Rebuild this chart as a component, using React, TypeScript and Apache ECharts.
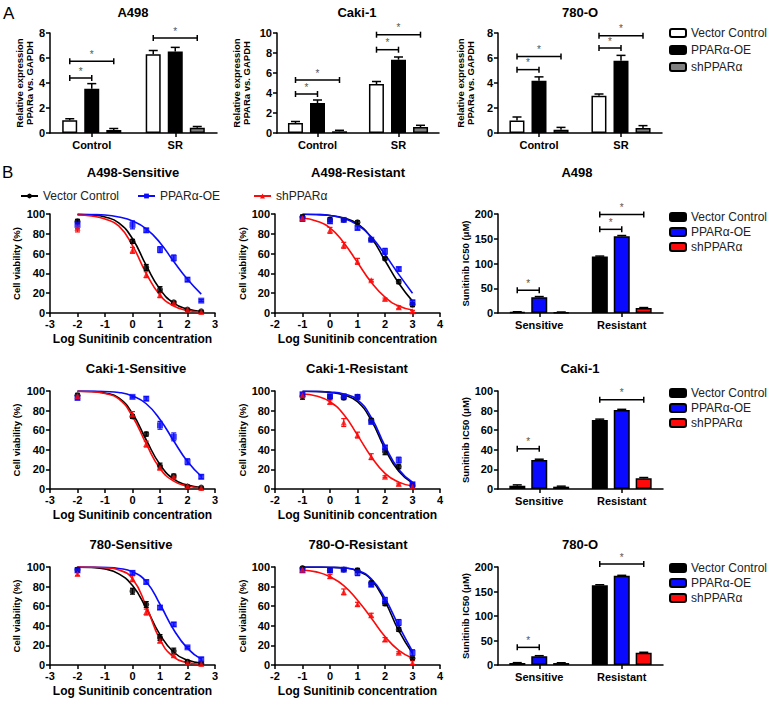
import React, { useEffect, useRef } from 'react';
import * as echarts from 'echarts';

const FONT = '"Liberation Sans", Arial, Helvetica, sans-serif';
const BLACK = '#000000';
const BLUE = '#0a0aff';
const RED = '#ff0a0a';
const GRAY = '#808080';
const WHITE = '#ffffff';
const STAR = '#555555';

// ---------------- Panel A: relative PPARα expression ----------------
const exprCategories = ['Control', 'SR'];
const a498ExprVC = [1.02, 6.3];
const a498ExprOE = [3.55, 6.52];
const a498ExprSh = [0.24, 0.42];
const a498ExprErrVC = [0.12, 0.3];
const a498ExprErrOE = [0.4, 0.33];
const a498ExprErrSh = [0.12, 0.1];
const a498ExprSig = [[0, 0, 1, 4.4], [0, 0, 2, 5.75], [1, 0, 2, 7.6]];

const cakiExprVC = [1.0, 4.9];
const cakiExprOE = [3.0, 7.33];
const cakiExprSh = [0.17, 0.6];
const cakiExprErrVC = [0.15, 0.25];
const cakiExprErrOE = [0.3, 0.27];
const cakiExprErrSh = [0.1, 0.17];
const cakiExprSig = [[0, 0, 1, 3.9], [0, 0, 2, 5.3], [1, 0, 1, 8.33], [1, 0, 2, 9.83]];

const o780ExprVC = [1.01, 2.99];
const o780ExprOE = [4.19, 5.79];
const o780ExprSh = [0.27, 0.4];
const o780ExprErrVC = [0.27, 0.13];
const o780ExprErrOE = [0.3, 0.42];
const o780ExprErrSh = [0.18, 0.19];
const o780ExprSig = [[0, 0, 1, 5.07], [0, 0, 2, 6.13], [1, 0, 1, 6.8], [1, 0, 2, 7.79]];

// ---------------- Panel B: IC50 bars ----------------
const ic50Categories = ['Sensitive', 'Resistant'];
const a498IcVC = [2, 114];
const a498IcOE = [32, 155];
const a498IcSh = [1.5, 10];
const a498IcErrVC = [0.5, 1];
const a498IcErrOE = [1.2, 1.5];
const a498IcErrSh = [0.5, 1];
const a498IcSig = [[0, 0, 1, 46], [1, 0, 1, 169], [1, 0, 2, 199]];

const cakiIcVC = [3.4, 70.5];
const cakiIcOE = [29.6, 80.5];
const cakiIcSh = [2.4, 10.9];
const cakiIcErrVC = [0.8, 0.8];
const cakiIcErrOE = [0.8, 0.8];
const cakiIcErrSh = [0.5, 0.8];
const cakiIcSig = [[0, 0, 1, 41], [1, 0, 2, 91]];

const o780IcVC = [4, 163];
const o780IcOE = [18, 182];
const o780IcSh = [4, 25];
const o780IcErrVC = [0.8, 0.8];
const o780IcErrOE = [1, 1];
const o780IcErrSh = [0.6, 1];
const o780IcSig = [[0, 0, 1, 36], [1, 0, 2, 206]];

// ---------------- Panel B: dose-response ----------------
const sensDoses = [-2, 0, 0.5, 1, 1.5, 2, 2.5];
const resDoses = [-1, 0, 0.5, 1, 1.5, 2, 2.5, 3];
const sensCurveX = [-2, -1.5, -1, -0.5, 0, 0.5, 1, 1.5, 2, 2.5];
const resCurveX = [-1, -0.5, 0, 0.5, 1, 1.5, 2, 2.5, 3];
const sensTicks = [-3, 3, 1];
const resTicks = [-2, 4, 1];

// A498 sensitive
const a498SensVC = [92.6, 72.4, 46, 23.6, 10.8, 3.4, 1.7];
const a498SensOE = [89, 89, 83.5, 64, 55.6, 33.7, 12.5];
const a498SensSh = [85.9, 63.3, 38.7, 18.5, 10, 3.4, 1];
const a498SensErrVC = [2, 2, 3, 3, 1, 1, 0.5];
const a498SensErrOE = [4, 4, 2, 3, 3, 2, 1];
const a498SensErrSh = [4, 3, 3, 3, 1, 1, 0.5];
const a498SensCurveVC = [99.5, 99, 97, 91, 75, 48, 24, 10, 4, 1.5];
const a498SensCurveOE = [100, 99.5, 99, 97, 93, 85, 71, 52, 34, 19];
const a498SensCurveSh = [99, 98, 95, 88, 68, 40, 18, 7, 2.5, 1];

// A498 resistant
const a498ResVC = [97, 94.3, 94, 91.6, 74, 55, 31.6, 8.4];
const a498ResOE = [95, 92.6, 94, 85.9, 74, 62.3, 44.4, 10.8];
const a498ResSh = [96, 83.5, 68.4, 52.2, 33, 14.1, 5.7, 1.7];
const a498ResErrVC = [2, 2, 1, 1.5, 1, 1.5, 2, 2];
const a498ResErrOE = [2, 2, 1, 2, 1, 3, 2, 2];
const a498ResErrSh = [2, 3, 3, 3, 1, 1, 1.5, 1];
const a498ResCurveVC = [99.8, 99.5, 98.5, 96, 90, 76, 53, 30, 12];
const a498ResCurveOE = [99.8, 99.5, 98.5, 95.5, 89, 77, 59, 39, 20];
const a498ResCurveSh = [96, 93, 86, 71, 51, 31, 16, 7, 3];

// Caki-1 sensitive
const cakiSensVC = [95.6, 74, 56, 23.4, 13.2, 2.4, 1.4];
const cakiSensOE = [93, 94, 92.2, 65, 53.2, 27.8, 12.5];
const cakiSensSh = [95, 76, 45.8, 21.7, 12.5, 3, 1];
const cakiSensErrVC = [2, 2, 2, 3, 2, 1, 0.5];
const cakiSensErrOE = [2, 1, 2, 4, 4, 3, 2];
const cakiSensErrSh = [2, 3, 3, 2, 1, 1, 0.5];
const cakiSensCurveVC = [99.8, 99.5, 98, 93, 77, 50, 25, 10, 4, 1.5];
const cakiSensCurveOE = [100, 100, 99.5, 98.5, 95, 87, 71, 49, 28, 13];
const cakiSensCurveSh = [99.8, 99.3, 97.5, 92, 74, 46, 21, 8, 3, 1];

// Caki-1 resistant
const cakiResVC = [94.6, 94, 93.2, 94, 70, 38, 22.7, 3.4];
const cakiResOE = [96.6, 94.6, 94.6, 94, 68.5, 42.4, 29.5, 4.7];
const cakiResSh = [95.6, 88.8, 67.8, 55, 33, 12.5, 5, 2.4];
const cakiResErrVC = [3, 2, 2, 2, 2, 3, 2, 2];
const cakiResErrOE = [2, 2, 2, 2, 2, 2, 3, 2];
const cakiResErrSh = [2, 2, 4, 3, 3, 1, 1, 1];
const cakiResCurveVC = [99.8, 99.5, 98.5, 96, 89, 70, 41, 18, 6];
const cakiResCurveOE = [99.8, 99.6, 99, 97, 91, 73, 44, 20, 7];
const cakiResCurveSh = [97, 95, 89, 76, 55, 33, 16, 7, 3];

// 780 sensitive
const o780SensVC = [97.3, 75.3, 61.7, 28, 14.2, 3.4, 1.7];
const o780SensOE = [96.6, 94, 84.7, 58.6, 41.4, 18, 5.8];
const o780SensSh = [93, 88, 54, 24.7, 10, 2.4, 1];
const o780SensErrVC = [2, 3, 3, 3, 3, 1, 1];
const o780SensErrOE = [2, 2, 2, 2, 2, 1, 2];
const o780SensErrSh = [2, 3, 3, 2, 2, 1, 1];
const o780SensCurveVC = [99.8, 99.5, 98, 93, 81, 58, 31, 13, 5, 2];
const o780SensCurveOE = [100, 100, 99.6, 98.5, 95, 85, 62, 36, 17, 6];
const o780SensCurveSh = [100, 99.8, 99.2, 97, 88, 60, 26, 8, 2.5, 0.8];

// 780-O resistant
const o780ResVC = [99, 96.6, 97.3, 96.6, 83.7, 62.7, 36.3, 6.8];
const o780ResOE = [96.6, 96.6, 97.3, 94.2, 82, 66, 43.4, 12.5];
const o780ResSh = [97.3, 90.5, 74.6, 62, 50.8, 26, 12.5, 2.4];
const o780ResErrVC = [1, 2, 1, 2, 2, 2, 2, 1];
const o780ResErrOE = [2, 2, 1, 3, 2, 3, 3, 3];
const o780ResErrSh = [1, 2, 3, 2, 2, 2, 1, 2];
const o780ResCurveVC = [100, 99.9, 99.7, 99, 96, 87, 65, 35, 12];
const o780ResCurveOE = [100, 99.9, 99.7, 99, 96.5, 88, 68, 40, 14];
const o780ResCurveSh = [97, 95, 90, 81, 66, 48, 29, 15, 7];

const groupNames = ['Vector Control', 'PPARα-OE', 'shPPARα'];
const BAR_SPACING = 22;

const axisLineStyle = { color: BLACK, width: 1.5 };
const labelStyle = { color: BLACK, fontFamily: FONT, fontWeight: 'bold' as const, fontSize: 11 };

function catAxis(gi: number, data: string[]) {
  return {
    type: 'category', gridIndex: gi, data,
    axisLine: { show: true, onZero: false, lineStyle: axisLineStyle },
    axisTick: { show: true, alignWithLabel: true, length: 4, lineStyle: axisLineStyle },
    axisLabel: { ...labelStyle, margin: 6 },
    splitLine: { show: false },
  };
}

function valAxis(gi: number, min: number, max: number, interval: number, name = '', nameGap = 20, nameStyle: any = {}) {
  return {
    type: 'value', gridIndex: gi, min, max, interval,
    name, nameLocation: 'middle', nameGap,
    nameTextStyle: { color: BLACK, fontFamily: FONT, fontWeight: 'bold', ...nameStyle },
    axisLine: { show: true, onZero: false, lineStyle: axisLineStyle },
    axisTick: { show: true, length: 4, lineStyle: axisLineStyle },
    axisLabel: { ...labelStyle, margin: 5 },
    splitLine: { show: false },
  };
}

function yValAxis(gi: number, min: number, max: number, interval: number, name: string, nameGap: number, nameStyle: any) {
  return { ...valAxis(gi, min, max, interval, name, nameGap, nameStyle), nameRotate: 90 };
}

function barErrSeries(gi: number, values: number[], errs: number[], k: number) {
  return {
    type: 'custom', xAxisIndex: gi, yAxisIndex: gi, silent: true, z: 3,
    itemStyle: { color: BLACK },
    data: values.map((v, i) => [i, v, errs[i]]),
    renderItem: (_p: any, api: any) => {
      const p0 = api.coord([api.value(0), api.value(1)]);
      const p1 = api.coord([api.value(0), api.value(1) + api.value(2)]);
      const x = p0[0] + (k - 1) * BAR_SPACING;
      return {
        type: 'group', children: [
          { type: 'line', shape: { x1: x, y1: p0[1], x2: x, y2: p1[1] }, style: { stroke: BLACK, lineWidth: 1.5 } },
          { type: 'line', shape: { x1: x - 4.5, y1: p1[1], x2: x + 4.5, y2: p1[1] }, style: { stroke: BLACK, lineWidth: 1.5 } },
        ],
      };
    },
  };
}

function sigSeries(gi: number, sig: number[][]) {
  return {
    type: 'custom', xAxisIndex: gi, yAxisIndex: gi, silent: true, z: 5, clip: false,
    itemStyle: { color: STAR },
    data: sig,
    renderItem: (_p: any, api: any) => {
      const p = api.coord([api.value(0), api.value(3)]);
      const x1 = p[0] + (api.value(1) - 1) * BAR_SPACING;
      const x2 = p[0] + (api.value(2) - 1) * BAR_SPACING;
      const y = p[1];
      const st = { stroke: BLACK, lineWidth: 1.5 };
      return {
        type: 'group', children: [
          { type: 'line', shape: { x1, y1: y, x2, y2: y }, style: st },
          { type: 'line', shape: { x1, y1: y - 3, x2: x1, y2: y + 3 }, style: st },
          { type: 'line', shape: { x1: x2, y1: y - 3, x2, y2: y + 3 }, style: st },
          { type: 'text', x: (x1 + x2) / 2, y: y - 2, style: { text: '*', align: 'center', verticalAlign: 'bottom', textAlign: 'center', textVerticalAlign: 'bottom', fontSize: 10, fontFamily: FONT, fill: STAR } },
        ],
      };
    },
  };
}

function pointErrSeries(gi: number, xs: number[], ys: number[], errs: number[], color: string) {
  return {
    type: 'custom', xAxisIndex: gi, yAxisIndex: gi, silent: true, z: 3,
    itemStyle: { color },
    data: xs.map((x, i) => [x, ys[i], errs[i]]),
    renderItem: (_p: any, api: any) => {
      const lo = api.coord([api.value(0), api.value(1) - api.value(2)]);
      const hi = api.coord([api.value(0), api.value(1) + api.value(2)]);
      const x = lo[0];
      const st = { stroke: color, lineWidth: 1.2 };
      return {
        type: 'group', children: [
          { type: 'line', shape: { x1: x, y1: lo[1], x2: x, y2: hi[1] }, style: st },
          { type: 'line', shape: { x1: x - 2.5, y1: lo[1], x2: x + 2.5, y2: lo[1] }, style: st },
          { type: 'line', shape: { x1: x - 2.5, y1: hi[1], x2: x + 2.5, y2: hi[1] }, style: st },
        ],
      };
    },
  };
}

const groupColors = [BLACK, BLUE, RED];
const groupSymbols = ['circle', 'rect', 'triangle'];

function doseSeries(gi: number, doses: number[], curveX: number[], pts: number[][], errs: number[][], curves: number[][]) {
  const out: any[] = [];
  curves.forEach((c, k) => {
    out.push({
      type: 'line', xAxisIndex: gi, yAxisIndex: gi, silent: true, z: 2,
      data: curveX.map((x, i) => [x, c[i]]), smooth: 0.5,
      symbol: 'none', lineStyle: { color: groupColors[k], width: 1.6 },
    });
  });
  pts.forEach((p, k) => {
    out.push(pointErrSeries(gi, doses, p, errs[k], groupColors[k]));
    out.push({
      type: 'scatter', xAxisIndex: gi, yAxisIndex: gi, silent: true, z: 4,
      data: doses.map((x, i) => [x, p[i]]), symbol: groupSymbols[k], symbolSize: 6,
      itemStyle: { color: groupColors[k] },
    });
  });
  return out;
}

function barSeries(gi: number, suffix: string, colors: string[], values: number[][], errs: number[][], barWidth: number, barGap: string) {
  const out: any[] = [];
  values.forEach((vals, k) => {
    out.push({
      type: 'bar', name: groupNames[k] + suffix, xAxisIndex: gi, yAxisIndex: gi, silent: true,
      data: vals, barWidth, barGap,
      itemStyle: { color: colors[k], borderColor: BLACK, borderWidth: 1.5 },
    });
  });
  errs.forEach((e, k) => out.push(barErrSeries(gi, values[k], e, k)));
  return out;
}

function buildOption() {
  const grids = [
    { left: 50, top: 33, width: 167, height: 100 },
    { left: 277, top: 33, width: 162, height: 100 },
    { left: 498, top: 33, width: 164, height: 100 },
    { left: 50, top: 214, width: 165, height: 99 },
    { left: 275, top: 214, width: 165, height: 99 },
    { left: 498, top: 214, width: 165, height: 99 },
    { left: 50, top: 391, width: 165, height: 98 },
    { left: 275, top: 391, width: 165, height: 98 },
    { left: 498, top: 391, width: 165, height: 98 },
    { left: 50, top: 567, width: 165, height: 98 },
    { left: 275, top: 567, width: 165, height: 98 },
    { left: 498, top: 567, width: 165, height: 98 },
  ];

  const exprName = 'Relative expression\nPPARa vs. GAPDH';
  const exprStyle = { fontSize: 9.5, lineHeight: 10.5 };
  const cvName = 'Cell viability (%)';
  const cvStyle = { fontSize: 9.5 };
  const icName = 'Sunitinib IC50 (μM)';
  const xName = 'Log Sunitinib concentration';
  const xNameStyle = { fontSize: 12 };

  const xAxes: any[] = [
    catAxis(0, exprCategories), catAxis(1, exprCategories), catAxis(2, exprCategories),
  ];
  const yAxes: any[] = [
    yValAxis(0, 0, 8, 2, exprName, 14, exprStyle),
    yValAxis(1, 0, 10, 2, exprName, 25, exprStyle),
    yValAxis(2, 0, 8, 2, exprName, 22, exprStyle),
  ];
  const icMax = [200, 100, 200];
  const icInt = [50, 20, 50];
  for (let r = 0; r < 3; r++) {
    const g = 3 + r * 3;
    xAxes.push(valAxis(g, sensTicks[0], sensTicks[1], sensTicks[2], xName, 20, xNameStyle));
    xAxes.push(valAxis(g + 1, resTicks[0], resTicks[1], resTicks[2], xName, 20, xNameStyle));
    xAxes.push(catAxis(g + 2, ic50Categories));
    yAxes.push(yValAxis(g, 0, 100, 20, cvName, 29, cvStyle));
    yAxes.push(yValAxis(g + 1, 0, 100, 20, cvName, 27, cvStyle));
    yAxes.push(yValAxis(g + 2, 0, icMax[r], icInt[r], icName, 28, cvStyle));
  }

  const exprColors = [WHITE, BLACK, GRAY];
  const icColors = [BLACK, BLUE, RED];
  const series: any[] = [
    ...barSeries(0, '|A', exprColors, [a498ExprVC, a498ExprOE, a498ExprSh], [a498ExprErrVC, a498ExprErrOE, a498ExprErrSh], 15, '47%'),
    sigSeries(0, a498ExprSig),
    ...barSeries(1, '|A', exprColors, [cakiExprVC, cakiExprOE, cakiExprSh], [cakiExprErrVC, cakiExprErrOE, cakiExprErrSh], 15, '47%'),
    sigSeries(1, cakiExprSig),
    ...barSeries(2, '|A', exprColors, [o780ExprVC, o780ExprOE, o780ExprSh], [o780ExprErrVC, o780ExprErrOE, o780ExprErrSh], 15, '47%'),
    sigSeries(2, o780ExprSig),

    ...doseSeries(3, sensDoses, sensCurveX, [a498SensVC, a498SensOE, a498SensSh], [a498SensErrVC, a498SensErrOE, a498SensErrSh], [a498SensCurveVC, a498SensCurveOE, a498SensCurveSh]),
    ...doseSeries(4, resDoses, resCurveX, [a498ResVC, a498ResOE, a498ResSh], [a498ResErrVC, a498ResErrOE, a498ResErrSh], [a498ResCurveVC, a498ResCurveOE, a498ResCurveSh]),
    ...barSeries(5, '|B', icColors, [a498IcVC, a498IcOE, a498IcSh], [a498IcErrVC, a498IcErrOE, a498IcErrSh], 16, '37%'),
    sigSeries(5, a498IcSig),

    ...doseSeries(6, sensDoses, sensCurveX, [cakiSensVC, cakiSensOE, cakiSensSh], [cakiSensErrVC, cakiSensErrOE, cakiSensErrSh], [cakiSensCurveVC, cakiSensCurveOE, cakiSensCurveSh]),
    ...doseSeries(7, resDoses, resCurveX, [cakiResVC, cakiResOE, cakiResSh], [cakiResErrVC, cakiResErrOE, cakiResErrSh], [cakiResCurveVC, cakiResCurveOE, cakiResCurveSh]),
    ...barSeries(8, '|B', icColors, [cakiIcVC, cakiIcOE, cakiIcSh], [cakiIcErrVC, cakiIcErrOE, cakiIcErrSh], 16, '37%'),
    sigSeries(8, cakiIcSig),

    ...doseSeries(9, sensDoses, sensCurveX, [o780SensVC, o780SensOE, o780SensSh], [o780SensErrVC, o780SensErrOE, o780SensErrSh], [o780SensCurveVC, o780SensCurveOE, o780SensCurveSh]),
    ...doseSeries(10, resDoses, resCurveX, [o780ResVC, o780ResOE, o780ResSh], [o780ResErrVC, o780ResErrOE, o780ResErrSh], [o780ResCurveVC, o780ResCurveOE, o780ResCurveSh]),
    ...barSeries(11, '|B', icColors, [o780IcVC, o780IcOE, o780IcSh], [o780IcErrVC, o780IcErrOE, o780IcErrSh], 16, '37%'),
    sigSeries(11, o780IcSig),
  ];

  // legend-only line series for the dose-response key
  groupNames.forEach((n, k) => {
    series.push({
      type: 'line', name: n + '|L', xAxisIndex: 3, yAxisIndex: 3, data: [],
      symbol: groupSymbols[k], symbolSize: 6,
      itemStyle: { color: groupColors[k] }, lineStyle: { color: groupColors[k], width: 1.6 },
    });
  });

  const fmt = (name: string) => name.split('|')[0];
  const legText = { fontFamily: FONT, fontSize: 12, color: '#222' };
  const boxLegend = (top: number, suffix: string, gap: number) => ({
    left: 669, top, orient: 'vertical', padding: 0, itemWidth: 16, itemHeight: 8, itemGap: gap,
    selectedMode: false, formatter: fmt, textStyle: legText,
    data: groupNames.map((n) => n + suffix),
  });
  const lineLegend = (left: number, k: number) => ({
    left, top: 190, padding: 0, itemWidth: 17, itemHeight: 6, selectedMode: false,
    formatter: fmt, textStyle: legText, data: [groupNames[k] + '|L'],
  });

  const tStyle = { fontFamily: FONT, fontWeight: 'bold' as const, fontSize: 13, color: BLACK };
  const t = (text: string, left: number, top: number) => ({ text, left, top, textAlign: 'center', padding: 0, textStyle: tStyle });

  return {
    animation: false,
    backgroundColor: '#ffffff',
    textStyle: { fontFamily: FONT },
    grid: grids,
    xAxis: xAxes,
    yAxis: yAxes,
    series,
    legend: [
      boxLegend(27, '|A', 5),
      lineLegend(20, 0), lineLegend(137, 1), lineLegend(253, 2),
      boxLegend(211, '|B', 3),
      boxLegend(387, '|B', 3),
      boxLegend(562, '|B', 3),
    ],
    title: [
      { text: 'A', left: 3, top: 5, padding: 0, textStyle: { fontFamily: FONT, fontWeight: 'normal', fontSize: 17, color: BLACK } },
      { text: 'B', left: 2, top: 164, padding: 0, textStyle: { fontFamily: FONT, fontWeight: 'normal', fontSize: 17, color: BLACK } },
      t('A498', 133, 6), t('Caki-1', 357, 6), t('780-O', 580, 6),
      t('A498-Sensitive', 133, 166), t('A498-Resistant', 358, 166), t('A498', 577, 166),
      t('Caki-1-Sensitive', 136, 362), t('Caki-1-Resistant', 357, 362), t('Caki-1', 580, 362),
      t('780-Sensitive', 131, 538), t('780-O-Resistant', 358, 538), t('780-O', 580, 538),
    ],
  };
}

export default function App() {
  const ref = useRef<HTMLDivElement>(null);
  useEffect(() => {
    if (!ref.current) return;
    const chart = echarts.init(ref.current, undefined, { renderer: 'svg' });
    chart.setOption(buildOption() as any);
    return () => chart.dispose();
  }, []);
  return (
    <div
      ref={ref}
      style={{ position: 'absolute', left: 0, top: 0, width: 773, height: 703, background: '#fff' }}
    />
  );
}
